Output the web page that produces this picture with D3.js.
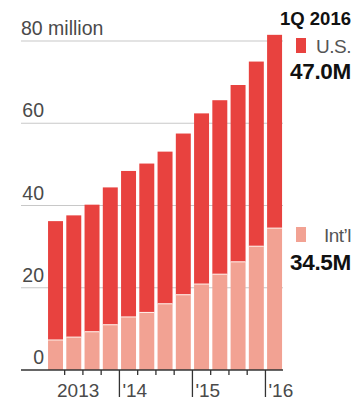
<!DOCTYPE html>
<html><head><meta charset="utf-8">
<script src="https://cdn.jsdelivr.net/npm/d3@7"></script>
<style>
html,body{margin:0;padding:0;background:#fff;}
svg{display:block;}
text{font-family:"Liberation Sans",Arial,sans-serif;}
</style></head>
<body>
<svg id="c" width="356" height="401"></svg>
<script>
const quarters = ["1Q13","2Q13","3Q13","4Q13","1Q14","2Q14","3Q14","4Q14","1Q15","2Q15","3Q15","4Q15","1Q16"];
const intl = [7.3, 8.0, 9.3, 11.0, 12.9, 14.0, 16.1, 18.3, 20.9, 23.3, 26.3, 30.1, 34.5];
const us   = [28.9, 29.6, 30.9, 33.4, 35.5, 36.2, 37.0, 39.2, 41.5, 42.3, 43.0, 44.9, 47.0];
const yTicks = [0, 20, 40, 60, 80];
const yearLabels = ["2013", "'14", "'15", "'16"];

const svg = d3.select("#c");
const US_COL = "#e8423f", INTL_COL = "#f2a293";

const x = d3.scaleBand().domain(quarters).range([46.4, 283.7]).paddingInner(0.18).paddingOuter(0.09);
const y = d3.scaleLinear().domain([0, 80]).range([370, 41]);
const gap = x.step() - x.bandwidth();

// gridlines
const grid = svg.append("g");
yTicks.filter(d => d > 0).forEach(d => {
  grid.append("line").attr("x1", 21).attr("x2", 283).attr("y1", y(d)).attr("y2", y(d))
    .attr("stroke", "#c8c8c8").attr("stroke-width", 1.2);
});
yTicks.forEach(d => {
  const t = grid.append("text").attr("y", y(d) - 6).attr("font-size", 19.5).attr("fill", "#4a4a4a");
  if (d === 80) t.attr("x", 21).text("80 million");
  else t.attr("x", 44).attr("text-anchor", "end").text(d);
});

// stacked bars
const rows = quarters.map((q, i) => ({q, intl: intl[i], us: us[i]}));
const stack = d3.stack().keys(["intl", "us"])(rows);
const colors = {intl: INTL_COL, us: US_COL};
svg.append("g").selectAll("g").data(stack).join("g")
  .attr("fill", s => colors[s.key])
  .selectAll("rect").data(s => s).join("rect")
  .attr("x", d => x(d.data.q)).attr("width", x.bandwidth())
  .attr("y", d => y(d[1])).attr("height", d => y(d[0]) - y(d[1]));
// thin separator between stacks
svg.append("g").selectAll("line").data(rows).join("line")
  .attr("x1", d => x(d.q)).attr("x2", d => x(d.q) + x.bandwidth())
  .attr("y1", d => y(d.intl)).attr("y2", d => y(d.intl))
  .attr("stroke", "#fff3ec").attr("stroke-width", 1);

// x axis
const ax = svg.append("g");
ax.append("line").attr("x1", 21).attr("x2", 283).attr("y1", 370).attr("y2", 370)
  .attr("stroke", "#333").attr("stroke-width", 1.5);
quarters.forEach((q, i) => {
  if (i === 0) return;
  const bx = x(q) - gap / 2;
  const major = i % 4 === 0;
  ax.append("line").attr("x1", bx).attr("x2", bx).attr("y1", 370).attr("y2", major ? 397 : 375)
    .attr("stroke", "#333").attr("stroke-width", 1.3);
  if (major) {
    ax.append("text").attr("x", bx + 3).attr("y", 397).attr("font-size", 19).attr("fill", "#4a4a4a")
      .text(yearLabels[i / 4]);
  }
});
ax.append("text").attr("x", x(quarters[0]) + 9).attr("y", 397).attr("font-size", 19).attr("fill", "#4a4a4a")
  .text(yearLabels[0]);

// legend / annotation
const L = svg.append("g");
const rx = 351;
L.append("text").attr("x", rx).attr("y", 25).attr("text-anchor", "end")
  .attr("font-size", 18.5).attr("font-weight", "bold").attr("fill", "#111")
  .text("1Q 2016");
L.append("rect").attr("x", 296).attr("y", 38).attr("width", 10).attr("height", 15).attr("fill", US_COL);
L.append("text").attr("x", rx).attr("y", 53).attr("text-anchor", "end")
  .attr("font-size", 19).attr("fill", "#555").attr("letter-spacing", -0.5).text("U.S.");
L.append("text").attr("x", rx).attr("y", 79).attr("text-anchor", "end")
  .attr("font-size", 22.5).attr("font-weight", "bold").attr("fill", "#111").attr("letter-spacing", -0.3)
  .text(us[us.length - 1].toFixed(1) + "M");
L.append("rect").attr("x", 296).attr("y", 227).attr("width", 10).attr("height", 15).attr("fill", INTL_COL);
L.append("text").attr("x", rx).attr("y", 242).attr("text-anchor", "end")
  .attr("font-size", 19).attr("fill", "#555").attr("letter-spacing", -0.5).text("Int\u2019l");
L.append("text").attr("x", rx).attr("y", 270).attr("text-anchor", "end")
  .attr("font-size", 22.5).attr("font-weight", "bold").attr("fill", "#111").attr("letter-spacing", -0.3)
  .text(intl[intl.length - 1].toFixed(1) + "M");
</script>
</body></html>
